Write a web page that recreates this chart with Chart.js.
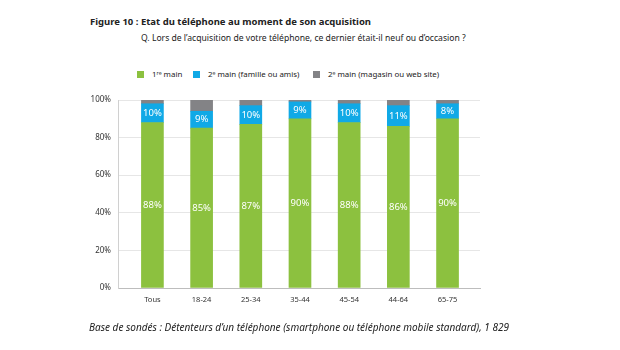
<!DOCTYPE html>
<html><head><meta charset="utf-8">
<script src="https://cdn.jsdelivr.net/npm/chart.js@4/dist/chart.umd.min.js"></script>
<style>
html,body{margin:0;padding:0;background:#fff;}
body{width:620px;height:350px;position:relative;overflow:hidden;font-family:"Noto Sans",sans-serif;color:#222;}
#c{position:absolute;left:0;top:0;}
.t{position:absolute;white-space:nowrap;}
#title{left:90px;top:15px;font-size:9.5px;font-weight:bold;}
#sub{left:141px;top:32px;font-size:8.6px;}
.item{position:absolute;top:68px;font-size:7.9px;line-height:12px;white-space:nowrap;}
.item i{display:inline-block;width:7px;height:7px;margin-right:8px;vertical-align:-1px;}
#foot{left:89px;top:320px;font-size:10px;font-style:italic;}
</style></head><body>
<div id="title" class="t">Figure 10 : Etat du téléphone au moment de son acquisition</div>
<div id="sub" class="t">Q. Lors de l’acquisition de votre téléphone, ce dernier était-il neuf ou d’occasion ?</div>
<div id="legend"></div>
<canvas id="c" width="620" height="350"></canvas>
<div id="foot" class="t">Base de sondés : Détenteurs d’un téléphone (smartphone ou téléphone mobile standard), 1 829</div>
<script>
const categories = ["Tous","18-24","25-34","35-44","45-54","44-64","65-75"];
const firstHand = [88,85,87,90,88,86,90];
const secondFamily = [10,9,10,9,10,11,8];
const secondShop = [2,6,3,1,2,3,2];
const seriesNames = ["1ʳᵉ main","2ᵉ main (famille ou amis)","2ᵉ main (magasin ou web site)"];
const yTicks = [0,20,40,60,80,100];

const colors = ["#8cc13f","#10a9e6","#838386"];
const series = [firstHand, secondFamily, secondShop];
const legendLeft = [137,193,313];

const leg = document.getElementById('legend');
seriesNames.forEach((n,i)=>{
  const s=document.createElement('span');s.className='item';s.style.left=legendLeft[i]+'px';
  const b=document.createElement('i');b.style.background=colors[i];
  s.appendChild(b);s.appendChild(document.createTextNode(n));leg.appendChild(s);
});

const labelPlugin = {
  id:'lbl',
  afterDatasetsDraw(chart){
    const ctx=chart.ctx;
    ctx.save();
    ctx.fillStyle='#fff';
    ctx.font='9.5px "Noto Sans"';
    ctx.textAlign='center';ctx.textBaseline='middle';
    [0,1].forEach(di=>{
      const meta=chart.getDatasetMeta(di);
      meta.data.forEach((el,i)=>{
        const v=series[di][i];
        ctx.fillText(v+'%',el.x,(el.y+el.base)/2);
      });
    });
    ctx.restore();
  }
};

new Chart(document.getElementById('c'),{
  type:'bar',
  data:{
    datasets: series.map((arr,di)=>({
      label:seriesNames[di],
      data:arr.map((v,i)=>({x:i,y:v})),
      backgroundColor:colors[di],
      barThickness:22,
      stack:'s'
    }))
  },
  options:{
    responsive:false,animation:false,
    layout:{padding:{left:78,right:140,top:100,bottom:42}},
    plugins:{legend:{display:false},tooltip:{enabled:false}},
    scales:{
      x:{type:'linear',stacked:true,min:-0.7,max:6.66,offset:false,
        afterFit(s){s.height=20;},
        afterBuildTicks(s){s.ticks=categories.map((c,i)=>({value:i}));},
        grid:{display:false,drawTicks:false,offset:false},
        border:{color:'#bdbdbd'},
        ticks:{font:{size:7.5,family:'"Noto Sans"'},color:'#333',padding:7,
          callback:(v)=>categories[v]!==undefined?categories[v]:''}},
      y:{stacked:true,min:0,max:100,
        afterFit(s){s.width=40;},
        afterBuildTicks(s){s.ticks=yTicks.map(v=>({value:v}));},
        grid:{color:'#e6e6e6',drawTicks:false},
        border:{color:'#d0d0d0'},
        ticks:{font:{size:8,family:'"Noto Sans"'},color:'#333',padding:7,callback:v=>v+'%'}}
    }
  },
  plugins:[labelPlugin]
});
</script>
</body></html>
